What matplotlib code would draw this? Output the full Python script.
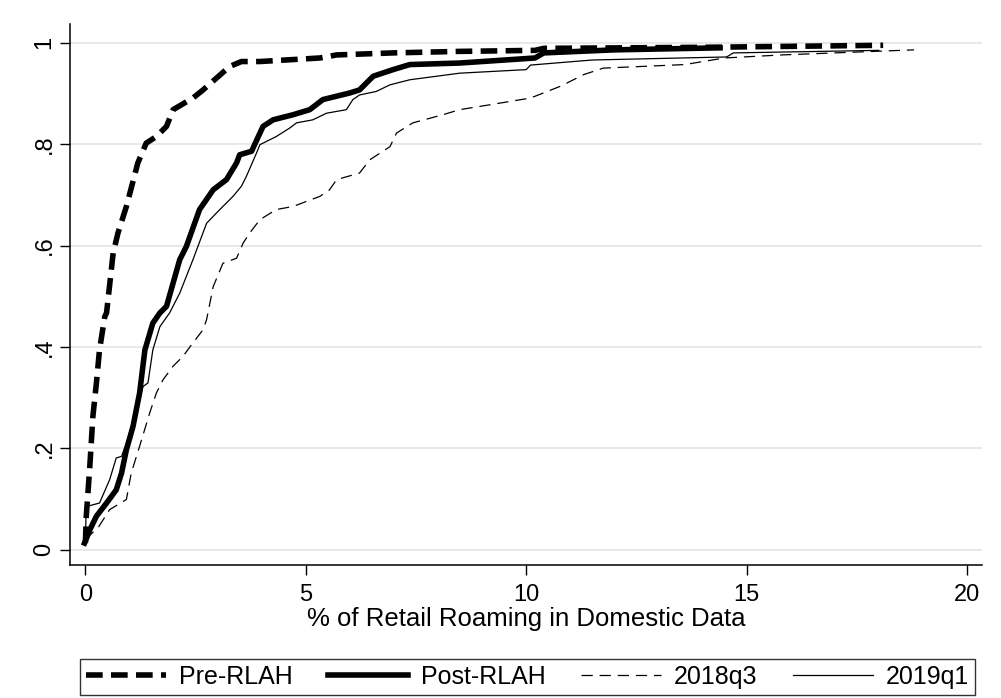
import matplotlib
matplotlib.use("Agg")
import matplotlib.pyplot as plt

plt.rcParams["font.family"] = ["Liberation Sans", "DejaVu Sans"]

# CDFs: x = % retail roaming in domestic data, y = share
pre_x = [0.0, 0.02, 0.10, 0.17, 0.25, 0.32, 0.44, 0.48, 0.63, 0.74, 0.93, 1.19, 1.38,
         1.61, 1.84, 1.99, 2.44, 2.67, 2.97, 3.27, 3.54, 3.96, 5.32, 5.70, 6.98, 8.49,
         10.2, 10.4, 14.0, 18.1]
pre_y = [0.013, 0.066, 0.164, 0.263, 0.329, 0.394, 0.46, 0.467, 0.585, 0.625, 0.677,
         0.763, 0.802, 0.815, 0.835, 0.868, 0.891, 0.907, 0.930, 0.953, 0.963, 0.963,
         0.970, 0.976, 0.980, 0.983, 0.985, 0.989, 0.991, 0.995]

post_x = [-0.02, 0.10, 0.25, 0.48, 0.70, 0.82, 0.93, 1.08, 1.23, 1.35, 1.53, 1.69, 1.84,
          2.14, 2.29, 2.59, 2.90, 3.20, 3.43, 3.50, 3.77, 4.03, 4.26, 4.71, 5.09, 5.39,
          6.00, 6.22, 6.53, 6.98, 7.36, 8.49, 10.2, 10.4, 12.0, 14.4]
post_y = [0.013, 0.039, 0.066, 0.092, 0.118, 0.151, 0.197, 0.243, 0.309, 0.394, 0.447,
          0.467, 0.48, 0.572, 0.598, 0.671, 0.710, 0.730, 0.763, 0.779, 0.786, 0.835,
          0.848, 0.858, 0.868, 0.888, 0.901, 0.907, 0.934, 0.947, 0.957, 0.960, 0.970,
          0.980, 0.986, 0.990]

q3_x = [0.0, 0.3, 0.55, 0.93, 1.04, 1.23, 1.46, 1.61, 1.76, 1.99, 2.21, 2.44, 2.67,
        2.75, 2.90, 3.12, 3.43, 3.58, 3.73, 3.96, 4.33, 4.71, 5.32, 5.54, 5.70, 6.22,
        6.45, 6.91, 7.06, 7.43, 8.11, 8.49, 9.2, 10.1, 10.8, 11.3, 11.75, 13.6, 14.5,
        15.8, 17.6, 18.8]
q3_y = [0.02, 0.045, 0.079, 0.099, 0.151, 0.204, 0.27, 0.309, 0.335, 0.362, 0.381,
        0.408, 0.434, 0.454, 0.519, 0.565, 0.575, 0.605, 0.625, 0.651, 0.671, 0.677,
        0.697, 0.710, 0.730, 0.743, 0.769, 0.795, 0.822, 0.842, 0.858, 0.868, 0.878,
        0.891, 0.915, 0.937, 0.950, 0.957, 0.970, 0.976, 0.982, 0.986]

q1_x = [0.0, 0.02, 0.32, 0.55, 0.70, 0.82, 0.93, 1.16, 1.31, 1.42, 1.53, 1.69, 1.91,
        2.14, 2.44, 2.75, 3.05, 3.35, 3.54, 3.65, 3.88, 3.96, 4.33, 4.64, 4.79, 5.16,
        5.47, 5.92, 6.07, 6.22, 6.60, 6.91, 7.36, 8.49, 10.0, 10.1, 11.5, 14.55, 14.7,
        18.0]
q1_y = [0.02, 0.085, 0.092, 0.138, 0.181, 0.184, 0.21, 0.276, 0.322, 0.329, 0.394,
        0.44, 0.467, 0.506, 0.572, 0.644, 0.671, 0.697, 0.717, 0.736, 0.782, 0.799,
        0.815, 0.832, 0.842, 0.848, 0.861, 0.868, 0.888, 0.897, 0.904, 0.917, 0.927,
        0.940, 0.947, 0.956, 0.966, 0.972, 0.980, 0.985]

x_ticks = [0, 5, 10, 15, 20]
y_ticks = [0, 0.2, 0.4, 0.6, 0.8, 1]
y_ticklabels = ["0", ".2", ".4", ".6", ".8", "1"]

fig = plt.figure(figsize=(10.01, 6.98), dpi=100)
ax = fig.add_axes([0.0699, 0.19, 0.911, 0.7756])

ax.plot(pre_x, pre_y, color="black", lw=4.0, dashes=(3.0, 1.5), label="Pre-RLAH")
ax.plot(post_x, post_y, color="black", lw=4.0, label="Post-RLAH")
ax.plot(q3_x, q3_y, color="black", lw=0.9, dashes=(9, 5.5), label="2018q3")
ax.plot(q1_x, q1_y, color="black", lw=0.9, label="2019q1")

ax.set_xlim(-0.35, 20.34)
ax.set_ylim(-0.031, 1.037)
ax.set_xticks(x_ticks)
ax.set_yticks(y_ticks)
ax.set_yticklabels(y_ticklabels, rotation=90, va="center")
ax.tick_params(axis="both", labelsize=17, length=7.5, width=1, color="black")
ax.tick_params(axis="y", pad=3)
ax.tick_params(axis="x", pad=6)
ax.grid(axis="y", color="#e6e6e6", lw=1.3)
ax.set_axisbelow(True)
for s in ["top", "right"]:
    ax.spines[s].set_visible(False)
for s in ["left", "bottom"]:
    ax.spines[s].set_linewidth(1.1)

ax.set_xlabel("% of Retail Roaming in Domestic Data", fontsize=18.5, labelpad=0.5)

fig.legend(loc="lower left", bbox_to_anchor=(0.0799, 0.004, 0.894, 0.068),
           mode="expand", ncol=4, fontsize=18, frameon=True, fancybox=False,
           edgecolor="black", handlelength=3.2, handletextpad=0.5,
           borderaxespad=0, borderpad=0.25, columnspacing=1.0)

fig.savefig("out.png", dpi=100)
